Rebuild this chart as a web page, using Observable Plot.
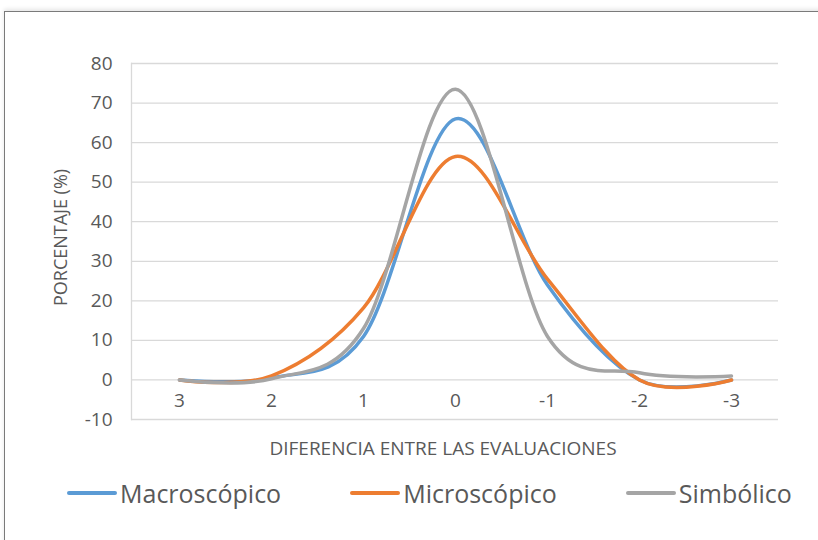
<!DOCTYPE html>
<html><head><meta charset="utf-8">
<script src="https://cdn.jsdelivr.net/npm/d3@7"></script>
<script src="https://cdn.jsdelivr.net/npm/@observablehq/plot@0.6"></script>
<style>
html,body{margin:0;padding:0;background:#fff;}
body{width:818px;height:540px;overflow:hidden;position:relative;font-family:"Open Sans",sans-serif;}
#frame{position:absolute;left:4px;top:11px;width:900px;height:600px;border-left:1px solid #7a7a7a;border-top:1px solid #7a7a7a;box-shadow:0 -2px 4px rgba(0,0,0,0.10);}
#chart{position:absolute;left:0;top:0;}
#legend{position:absolute;top:476px;left:67px;display:flex;align-items:center;font-size:25px;color:#595959;white-space:nowrap;}
.item{display:flex;align-items:center;margin-right:69px;}
.sw{width:50px;height:4px;border-radius:2px;margin-right:3px;}
</style>
</head><body>
<div id="frame"></div>
<div id="chart"></div>
<div id="legend"></div>
<script>
const categories = ["3","2","1","0","-1","-2","-3"];
const macroscopico = [0, 0.5, 11, 66, 24, 0, 0];
const microscopico = [0, 1, 18.2, 56.5, 25.5, 0, 0];
const simbolico = [0, 0.3, 13, 73.5, 11, 1.8, 1];
const seriesNames = ["Macroscópico","Microscópico","Simbólico"];
const seriesColors = ["#5B9BD5","#ED7D31","#A5A5A5"];
const yTicks = [-10,0,10,20,30,40,50,60,70,80];
const xTitle = "DIFERENCIA ENTRE LAS EVALUACIONES";
const yTitle = "PORCENTAJE (%)";

const seriesValues = [macroscopico, microscopico, simbolico];
const rows = [];
seriesNames.forEach((s, i) => categories.forEach((c, j) => rows.push({series: s, cat: c, value: seriesValues[i][j]})));

const chart = Plot.plot({
  width: 818, height: 470,
  marginTop: 63, marginBottom: 51, marginLeft: 131, marginRight: 40,
  x: {type: "point", domain: categories, padding: 0.5},
  y: {domain: [-10, 80]},
  color: {domain: seriesNames, range: seriesColors},
  style: {fontFamily: "'Open Sans', sans-serif", fontSize: "19px", color: "#595959", background: "transparent", overflow: "visible"},
  marks: [
    Plot.ruleY(yTicks, {stroke: "#d9d9d9", strokeWidth: 1.3}),
    Plot.frame({anchor: "left", stroke: "#d9d9d9", strokeWidth: 1.3}),
    Plot.axisY(yTicks, {tickSize: 0, tickPadding: 19, label: null, tickFormat: d => String(d), fontSize: 19}),
    Plot.axisX({tickSize: 0, tickPadding: 0, dy: -26, label: null, fontSize: 19}),
    Plot.text([xTitle], {frameAnchor: "bottom", lineAnchor: "middle", textAnchor: "middle", dy: 29, dx: -12, text: d => d, fontSize: 19, fill: "#595959"}),
    Plot.text([yTitle], {frameAnchor: "left", lineAnchor: "middle", textAnchor: "middle", rotate: -90, dx: -70, dy: -4, text: d => d, fontSize: 18, fill: "#595959"}),
    Plot.line(rows, {x: "cat", y: "value", stroke: "series", curve: "cardinal", strokeWidth: 3.5, strokeLinecap: "round", strokeLinejoin: "round"})
  ]
});
document.getElementById("chart").append(chart);

const legend = document.getElementById("legend");
seriesNames.forEach((s, i) => {
  const it = document.createElement("div");
  it.className = "item";
  const sw = document.createElement("span");
  sw.className = "sw";
  sw.style.background = seriesColors[i];
  const t = document.createElement("span");
  t.textContent = s;
  it.append(sw, t);
  legend.append(it);
});
</script>
</body></html>
